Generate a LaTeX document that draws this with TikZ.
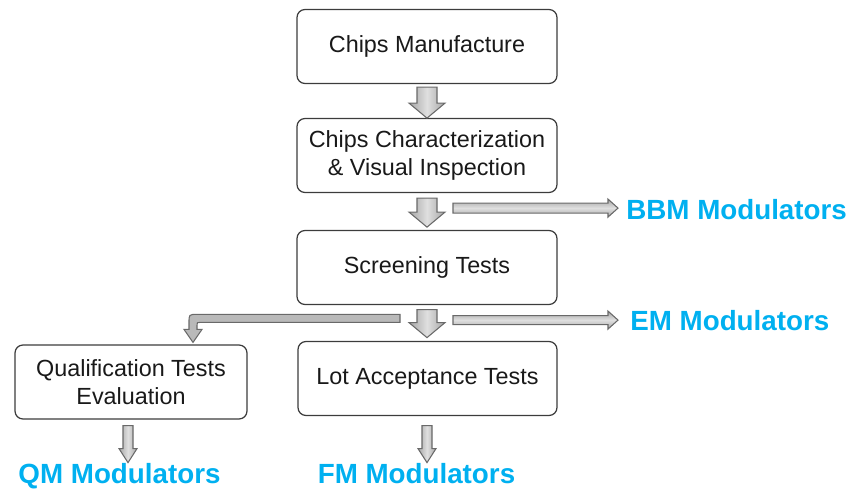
\documentclass[tikz,border=0pt]{standalone}
\usepackage{fontspec}
\setmainfont{Liberation Sans}
\usetikzlibrary{calc}
\definecolor{modblue}{RGB}{0,176,240}
\definecolor{boxline}{RGB}{60,60,60}
\definecolor{arrline}{RGB}{105,105,105}

\begin{document}
\begin{tikzpicture}[x=0.02cm, y=-0.02cm]
    \tikzstyle{stage} = [draw=boxline, rounded corners=4.5pt, line width=0.7pt,
        align=center, text=black!90, font=\fontsize{13.3}{16}\selectfont,
        minimum width=5.2cm, minimum height=1.48cm, inner sep=0pt]
    \tikzstyle{modul} = [text=modblue, font=\fontsize{15.8}{18}\selectfont\bfseries,
        inner sep=0pt]
    \tikzstyle{vblock} = [draw=arrline, line width=0.6pt, left color=gray!70,
        right color=gray!70, middle color=gray!25]
    \tikzstyle{hblock} = [draw=arrline, line width=0.6pt, top color=gray!70,
        bottom color=gray!70, middle color=gray!25]

    \useasboundingbox (0,0) rectangle (852,488);

    % Stages ----------------------------------------
    \node (man) at (427,46.5) [stage] {Chips Manufacture};
    \node (char) at (427,155.5) [stage] {Chips Characterization\\\& Visual Inspection};
    \node (scr) at (427,267.5) [stage] {Screening Tests};
    \node (lot) at (427.5,378.5) [stage, minimum width=5.18cm] {Lot Acceptance Tests};
    \node (qual) at (131,382) [stage, minimum width=4.64cm] {Qualification Tests\\Evaluation};
    % ------------------------------------------------

    % Modulators
    \node (bbm) at (626,219) [modul, anchor=base west] {BBM Modulators};
    \node (em) at (630,330) [modul, anchor=base west] {EM Modulators};
    \node (qm) at ($(qual.south)+(-11.5,64)$) [modul, anchor=base] {QM Modulators};
    \node (fm) at ($(lot.south)+(-11,67.5)$) [modul, anchor=base] {FM Modulators};

    % Down arrows ------------------------------------
    \draw[vblock] ($(man.south)+(-10,3)$) -- ++(20,0) -- ++(0,16) -- ++(8,0)
        -- ++(-18,15) -- ++(-18,-15) -- ++(8,0) -- cycle;
    \draw[vblock] ($(char.south)+(-10,5)$) -- ++(20,0) -- ++(0,14) -- ++(8,0)
        -- ++(-18,15) -- ++(-18,-15) -- ++(8,0) -- cycle;
    \draw[vblock] ($(scr.south)+(-10,4.5)$) -- ++(20,0) -- ++(0,13) -- ++(8,0)
        -- ++(-18,15) -- ++(-18,-15) -- ++(8,0) -- cycle;
    \draw[vblock] ($(qual.south)+(-8,6)$) -- ++(10,0) -- ++(0,23) -- ++(4,0)
        -- ++(-9,14) -- ++(-9,-14) -- ++(4,0) -- cycle;
    \draw[vblock] ($(lot.south)+(-5.5,9.5)$) -- ++(10,0) -- ++(0,23) -- ++(4,0)
        -- ++(-9,14) -- ++(-9,-14) -- ++(4,0) -- cycle;

    % Side arrows
    \draw[hblock] ($(bbm.west)+(-8,-1)$) -- ++(-10,-9) -- ++(0,4) -- ++(-155,0)
        -- ++(0,10) -- ++(155,0) -- ++(0,4) -- cycle;
    \draw[hblock] ($(em.west)+(-12,0)$) -- ++(-10,-9) -- ++(0,4.5) -- ++(-155,0)
        -- ++(0,9) -- ++(155,0) -- ++(0,4.5) -- cycle;

    % bent arrow to the qualification box
    \coordinate (qtip) at ($(qual.north)+(62,-2)$);
    \draw[draw=arrline, line width=0.6pt, fill=gray!55] (qtip) -- ++(9,-13) -- ++(-5,0) -- ++(0,-4)
        .. controls +(0,-3) and +(-3,0) .. ++(3,-3) -- ++(200,0) -- ++(0,-8) -- ++(-203,0)
        .. controls +(-8,0) and +(0,-8) .. ++(-8,8) -- ++(0,7) -- ++(-5,0) -- cycle;
\end{tikzpicture}
\end{document}
